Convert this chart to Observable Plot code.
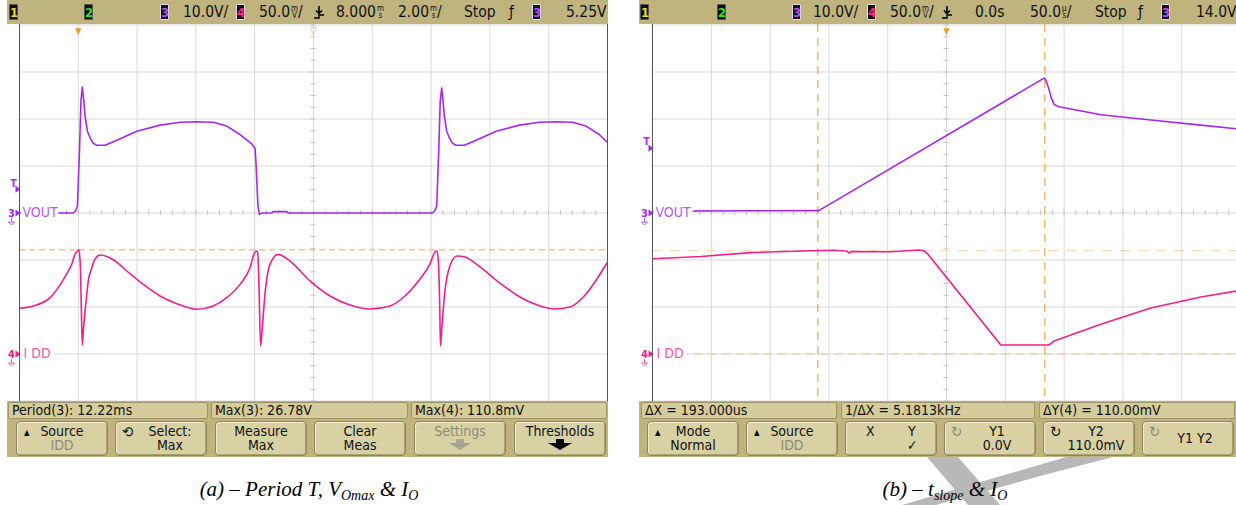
<!DOCTYPE html>
<html><head><meta charset="utf-8">
<script src="https://cdn.jsdelivr.net/npm/d3@7"></script>
<script src="https://cdn.jsdelivr.net/npm/@observablehq/plot@0.6"></script>
<style>
body{margin:0;width:1236px;height:505px;overflow:hidden;background:#fff;position:relative;
 font-family:"Liberation Sans Narrow","DejaVu Sans Condensed","Roboto Condensed","Liberation Sans",sans-serif;font-stretch:condensed;}
.a{position:absolute;white-space:nowrap}
.khaki{position:absolute;background:#bfb47d}
.t{position:absolute;top:3px;font-size:15.5px;line-height:18px;color:#111;white-space:nowrap}
.ch{position:absolute;top:4px;width:9px;height:16px;background:#111;border:1px solid #555;box-sizing:border-box;
 font-size:13px;line-height:15px;font-weight:bold;text-align:center;border-radius:1px}
.ch.on{border-color:#ddd}
.st{display:inline-block;font-size:8px;line-height:7px;vertical-align:-1px;text-align:center;margin-left:1px}
.mb{position:absolute;top:402px;height:17px;background:#d4cc9b;border:1px solid #9d956a;box-sizing:border-box;border-radius:2px;
 font-size:14px;line-height:15px;padding-left:3px;color:#111;white-space:nowrap}
.btn{position:absolute;top:421px;height:35px;background:#d8d1a4;border:1px solid #8d865e;box-sizing:border-box;border-radius:4px;
 box-shadow:inset 1px 1px 0 #f1ebcf, inset -1px -1px 0 #aaa273;font-size:14px;line-height:14px;color:#111;text-align:center;padding-top:2px}
.btn .g{color:#8e8a76}
.btn .ic{position:absolute;left:6px;top:3px;font-size:15px}
.btn .tri{position:absolute;left:7px;top:4px;font-size:8px}
.cap{position:absolute;top:477px;font-family:"Liberation Serif","DejaVu Serif",serif;font-style:italic;font-size:21px;text-align:center;color:#000}
.cap sub{font-size:14px;vertical-align:-4px;line-height:0}
</style></head><body>

<svg class="a" style="left:0;top:0" width="1236" height="505">
 <polygon points="927,457 958,457 1000,505 968,505" fill="#b8b8b8"/>
 <polygon points="1066,457 1113,457 1040,476 936,505 902,505" fill="#b8b8b8"/>
</svg>

<!-- top bars -->
<div class="khaki" style="left:7px;top:0;width:601px;height:24px"></div>
<div class="khaki" style="left:639px;top:0;width:597px;height:24px"></div>
<!-- bottom bars -->
<div class="khaki" style="left:7px;top:401px;width:601px;height:56px"></div>
<div class="khaki" style="left:639px;top:401px;width:597px;height:56px"></div>

<div id="topbar"></div>
<div id="scrA" class="a" style="left:7px;top:24px;width:601px;height:377px"></div>
<div id="scrB" class="a" style="left:639px;top:24px;width:602px;height:377px"></div>

<!-- measurement boxes -->
<div class="mb" style="left:8px;width:200px">Period(3): 12.22ms</div>
<div class="mb" style="left:211px;width:197px">Max(3): 26.78V</div>
<div class="mb" style="left:411px;width:196px">Max(4): 110.8mV</div>
<div class="mb" style="left:641px;width:196px">ΔX = 193.000us</div>
<div class="mb" style="left:841px;width:194px">1/ΔX = 5.1813kHz</div>
<div class="mb" style="left:1039px;width:196px">ΔY(4) = 110.00mV</div>

<!-- buttons (a) -->
<div class="btn" style="left:16px;width:92px"><span class="tri">▲</span>Source<br><span class="g">IDD</span></div>
<div class="btn" style="left:115px;width:92px"><span class="ic">⟲</span><span style="margin-left:18px">Select:</span><br><span style="margin-left:18px">Max</span></div>
<div class="btn" style="left:215px;width:92px">Measure<br>Max</div>
<div class="btn" style="left:314px;width:92px">Clear<br>Meas</div>
<div class="btn" style="left:414px;width:92px"><span class="g">Settings</span><br>
 <svg width="26" height="11" style="margin-top:1px"><path d="M9 0h8v4h7l-11 7l-11-7h7z" fill="#a8a490"/></svg></div>
<div class="btn" style="left:514px;width:92px">Thresholds<br>
 <svg width="28" height="11" style="margin-top:1px"><path d="M10 0h8v4h8l-12 7l-12-7h8z" fill="#000"/></svg></div>
<!-- buttons (b) -->
<div class="btn" style="left:647px;width:92px"><span class="tri">▲</span>Mode<br>Normal</div>
<div class="btn" style="left:746px;width:92px"><span class="tri">▲</span>Source<br><span class="g">IDD</span></div>
<div class="btn" style="left:845px;width:92px"><span style="position:absolute;left:20px;top:2px">X</span><span style="position:absolute;left:62px;top:2px">Y</span>
 <span style="position:absolute;left:61px;top:16px">✓</span></div>
<div class="btn" style="left:944px;width:92px"><span class="ic g">↻</span><span style="margin-left:14px">Y1</span><br><span style="margin-left:14px">0.0V</span></div>
<div class="btn" style="left:1043px;width:92px"><span class="ic">↻</span><span style="margin-left:14px">Y2</span><br><span style="margin-left:14px">110.0mV</span></div>
<div class="btn" style="left:1142px;width:92px;padding-top:9px"><span class="ic g">↻</span><span style="margin-left:14px">Y1 Y2</span></div>

<div class="cap" style="left:0;width:618px">(a) – Period T, V<sub>Omax</sub> &amp; I<sub>O</sub></div>
<div class="cap" style="left:655px;width:580px">(b) – t<sub>slope</sub> &amp; I<sub>O</sub></div>

<script>
// ---------- data ----------
// (a): 2.00 ms/div, delay 8.000 ms -> time axis -2 .. 18 ms
const aGridX = [-2, 0, 2, 4, 6, 8, 10, 12, 14, 16, 18];
// (b): 50.0 us/div, delay 0.0 s -> time axis -250 .. 250 us
const bGridX = [-250, -200, -150, -100, -50, 0, 50, 100, 150, 200, 250];
const gridY = [-4, -3, -2, -1, 0, 1, 2, 3, 4];          // divisions
const voltsPerDiv = 10.0;   // channel 3 VOUT
const mVPerDiv = 50.0;      // channel 4 IDD
const iddGroundDiv = -3;    // ground marker of channel 4
const trigLevelA = 5.25, trigLevelB = 14.0;   // V
const maxIddA = 110.8;      // mV measurement marker
const cursorXB = [-109.4, 83.6];   // us (dX = 193.000 us)
const cursorY1B = 0.0, cursorY2B = 110.0;   // mV

// VOUT (a): [ms, V]
const aVout = [
 [-2.00,0],[-0.17,0],[-0.08,0.6],[-0.03,1.5],[0.04,13.2],[0.09,23.8],[0.136,26.78],[0.18,24.3],[0.23,20.6],
 [0.31,17.4],[0.40,16.0],[0.50,14.9],[0.63,14.4],[0.91,14.4],[1.31,15.5],[1.99,17.4],[2.78,18.7],[3.46,19.3],
 [4.03,19.4],[4.59,19.3],[5.05,18.5],[5.50,16.7],[5.90,14.7],[6.01,13.8],[6.04,11.1],[6.08,5.7],[6.11,1.5],
 [6.16,-0.3],[6.25,0],[6.60,0],[6.62,0.3],[7.10,0.3],[7.13,0],[12.05,0],[12.14,0.6],[12.19,1.5],[12.26,13.2],
 [12.31,23.8],[12.36,26.6],[12.40,24.3],[12.45,20.6],[12.53,17.4],[12.62,16.0],[12.72,14.9],[12.85,14.4],
 [13.13,14.4],[13.53,15.5],[14.21,17.4],[15.00,18.7],[15.68,19.3],[16.25,19.4],[16.81,19.3],[17.27,18.5],
 [17.72,16.7],[17.98,15.1]
];
// IDD (a): [ms, mV]
const aIdd = [
 [-2.00,48.6],[-1.53,51.1],[-0.96,59.9],[-0.62,73.5],[-0.40,85.0],[-0.22,95.7],[-0.11,106.4],[-0.03,109.6],
 [0.02,110.8],[0.07,93.6],[0.10,53.2],[0.136,9.6],[0.17,24.5],[0.23,45.7],[0.29,63.8],[0.34,77.7],[0.46,91.8],
 [0.57,101.1],[0.74,105.3],[0.97,103.7],[1.25,98.9],[1.65,88.3],[2.21,74.1],[2.78,61.7],[3.35,53.5],[4.03,47.6],
 [4.59,51.1],[5.05,59.9],[5.50,74.1],[5.84,91.8],[5.98,106.4],[6.04,109.6],[6.10,108.5],[6.15,67.0],[6.20,8.5],
 [6.25,24.5],[6.35,63.8],[6.52,95.4],[6.80,106.0],[7.20,98.9],[7.88,77.7],[8.56,61.7],[9.24,52.1],[9.92,47.9],
 [10.60,51.1],[11.11,61.7],[11.62,79.8],[11.96,95.7],[12.13,108.5],[12.20,109.6],[12.25,96.8],[12.29,56.4],
 [12.32,8.5],[12.37,29.8],[12.47,67.0],[12.64,93.6],[12.88,104.3],[13.15,103.2],[13.66,92.6],[14.34,75.5],
 [15.02,60.6],[15.70,51.1],[16.21,47.9],[16.72,50.0],[17.24,62.8],[17.64,79.8],[17.98,96.8]
];
// VOUT (b): [us, V]
const bVout = [
 [-249.7,0.4],[-108.6,0.5],[83.0,28.7],[84.4,28.3],[87.2,26.3],[89.1,24.5],[91.5,23.1],[95.7,22.6],
 [117.0,21.6],[131.2,20.9],[173.7,19.8],[216.2,18.7],[247.0,17.9]
];
// IDD (b): [us, mV]
const bIdd = [
 [-249.7,101.4],[-208.9,103.7],[-166.4,107.8],[-123.9,109.6],[-95.8,110.3],[-84.8,109.6],[-82.8,107.4],
 [-80.5,109.1],[-47.4,108.8],[-24.0,110.6],[-19.5,110.0],[-16.0,106.5],[46.2,9.6],[87.2,9.6],[91.5,13.8],
 [131.2,31.6],[173.7,48.9],[216.2,60.6],[247.0,67.0]
];

// ---------- colours ----------
const C3 = "#a826f2", C3L = "#b35cf3", C4 = "#f0208c", C4L = "#f25aa6", GRID = "#d9d9d9", ORG = "#f2a44c";

// small marker glyphs
const arrowRight = {draw(c) { c.moveTo(-2, -3.5); c.lineTo(3, 0); c.lineTo(-2, 3.5); c.closePath(); }};
const groundSym = {draw(c) { c.moveTo(0, -3); c.lineTo(0, 1); c.moveTo(-3, 1); c.lineTo(3, 1); c.lineTo(0, 4); c.closePath(); }};

function scope({xDomain, gridX, minorX, minorY, ml, vout, idd, trig, iddCurve, extras}) {
  const pxPerX = (xDomain[1] - xDomain[0]) / 588;
  const mid = (xDomain[0] + xDomain[1]) / 2;
  return Plot.plot({
    width: ml + 588 + 1, height: 377,
    marginLeft: ml, marginRight: 1, marginTop: 0, marginBottom: 0,
    x: {domain: xDomain, range: [ml, ml + 588], axis: null},
    y: {domain: [-4, 4], range: [376.5, 0.5], axis: null},
    style: {background: "transparent", maxWidth: "none", fontFamily: "'Liberation Sans Narrow','DejaVu Sans Condensed','Liberation Sans',sans-serif"},
    marks: [
      Plot.ruleX(gridX.slice(1, -1), {stroke: GRID}),
      Plot.ruleY(gridY, {stroke: GRID}),
      Plot.ruleX(minorX, {y1: -0.055, y2: 0.055, stroke: "#c4c4c4"}),
      Plot.ruleY(minorY, {x1: mid - 2.6 * pxPerX, x2: mid + 2.6 * pxPerX, stroke: "#c4c4c4"}),
      ...extras,
      Plot.line(idd, {x: d => d[0], y: d => d[1] / mVPerDiv + iddGroundDiv, stroke: C4, strokeWidth: 1.6, curve: iddCurve}),
      Plot.line(vout, {x: d => d[0], y: d => d[1] / voltsPerDiv, stroke: C3, strokeWidth: 1.6, curve: "linear"}),
      // channel labels
      Plot.text(["VOUT"], {frameAnchor: "left", y: 0, dx: 3, textAnchor: "start", fill: C3L, fontSize: 14, stroke: "white", strokeWidth: 7}),
      Plot.text(["I DD"], {frameAnchor: "left", y: iddGroundDiv, dx: 4, textAnchor: "start", fill: C4L, fontSize: 14, stroke: "white", strokeWidth: 7}),
      // ground and trigger markers in the left margin
      Plot.text(["3"], {frameAnchor: "left", y: 0, dx: -8, textAnchor: "middle", fill: C3, fontSize: 11, fontWeight: "bold"}),
      Plot.dot([0], {frameAnchor: "left", y: d => d, dx: -2, symbol: arrowRight, fill: C3, stroke: "none"}),
      Plot.dot([0], {frameAnchor: "left", y: d => d, dx: -8, dy: 8, symbol: groundSym, fill: "none", stroke: C3L, strokeWidth: 1}),
      Plot.text(["4"], {frameAnchor: "left", y: iddGroundDiv, dx: -8, textAnchor: "middle", fill: C4, fontSize: 11, fontWeight: "bold"}),
      Plot.dot([iddGroundDiv], {frameAnchor: "left", y: d => d, dx: -2, symbol: arrowRight, fill: C4, stroke: "none"}),
      Plot.dot([iddGroundDiv], {frameAnchor: "left", y: d => d, dx: -8, dy: 8, symbol: groundSym, fill: "none", stroke: C4L, strokeWidth: 1}),
      Plot.text(["T"], {frameAnchor: "left", y: trig / voltsPerDiv, dx: -6, dy: -5, textAnchor: "middle", fill: C3, fontSize: 10, fontWeight: "bold"}),
      Plot.dot([trig], {frameAnchor: "left", y: d => d / voltsPerDiv, dx: -2, dy: 1, symbol: arrowRight, fill: C3, stroke: "none"}),
      // trigger point marker
      Plot.text([0], {x: d => d, frameAnchor: "top", text: () => "▼", fill: "#f39a2c", fontSize: 9, dy: 3}),
      // frame borders
      Plot.ruleX([xDomain[0]], {stroke: "#555"}),
      Plot.ruleX([xDomain[1]], {stroke: "#555"})
    ]
  });
}

const aMinorX = d3.range(-2, 18.001, 0.4);
const bMinorX = d3.range(-250, 250.001, 10);
const minorY = d3.range(-4, 4.001, 0.25);

document.getElementById("scrA").append(scope({
  xDomain: [-2, 18], gridX: aGridX, minorX: aMinorX, minorY, ml: 12, vout: aVout, idd: aIdd, trig: trigLevelA, iddCurve: "monotone-x",
  extras: [
    Plot.ruleY([maxIddA], {y: d => d / mVPerDiv + iddGroundDiv, stroke: ORG, strokeDasharray: "6,4"}),
    Plot.text([8], {x: d => d, frameAnchor: "top", text: () => "▽", fill: ORG, fontSize: 10, dy: 2})
  ]
}));
document.getElementById("scrB").append(scope({
  xDomain: [-250, 250], gridX: bGridX, minorX: bMinorX, minorY, ml: 13, vout: bVout, idd: bIdd, trig: trigLevelB, iddCurve: "linear",
  extras: [
    Plot.ruleY([cursorY2B], {y: d => d / mVPerDiv + iddGroundDiv, stroke: "#f9dbb8", strokeDasharray: "10,8", strokeWidth: 1.3}),
    Plot.ruleY([cursorY1B], {y: d => d / mVPerDiv + iddGroundDiv, stroke: "#f3c48e", strokeDasharray: "8,6", strokeWidth: 1.2}),
    Plot.ruleX(cursorXB, {stroke: ORG, strokeDasharray: "8,6", strokeWidth: 1.2})
  ]
}));

// ---------- top status bars ----------
const barEl = document.getElementById("topbar");
function ch(x, n, color, on) { barEl.insertAdjacentHTML("beforeend", `<div class="ch${on ? " on" : ""}" style="left:${x}px;color:${color}">${n}</div>`); }
function tx(x, html) { barEl.insertAdjacentHTML("beforeend", `<div class="t" style="left:${x}px">${html}</div>`); }
const st = (a, b) => `<span class="st">${a}<br>${b}</span>`;
const trigIcon = `<svg width="12" height="15" style="vertical-align:-3px"><path d="M6 1v7M3 5.5l3 3l3-3" stroke="#000" fill="none" stroke-width="1.6"/><path d="M1 13h5v-3h5" stroke="#000" fill="none" stroke-width="1.4"/></svg>`;
// (a)
ch(9, "1", "#e4dc28"); ch(84, "2", "#28e028"); ch(160, "3", "#b44cff", true); tx(183, "10.0V/");
ch(236, "4", "#ff2a8a", true); tx(259, "50.0" + st("m", "V") + "/"); tx(313, trigIcon);
tx(336, "8.000" + st("m", "s")); tx(398, "2.00" + st("m", "s") + "/"); tx(464, "Stop"); tx(509, "ƒ");
ch(532, "3", "#b44cff", true); tx(566, "5.25V");
// (b)
ch(640, "1", "#e4dc28"); ch(717, "2", "#28e028"); ch(792, "3", "#b44cff", true); tx(813, "10.0V/");
ch(867, "4", "#ff2a8a", true); tx(890, "50.0" + st("m", "V") + "/"); tx(941, trigIcon);
tx(975, "0.0s"); tx(1030, "50.0" + st("μ", "s") + "/"); tx(1095, "Stop"); tx(1138, "ƒ");
ch(1161, "3", "#b44cff", true); tx(1196, "14.0V");
</script>
</body></html>
